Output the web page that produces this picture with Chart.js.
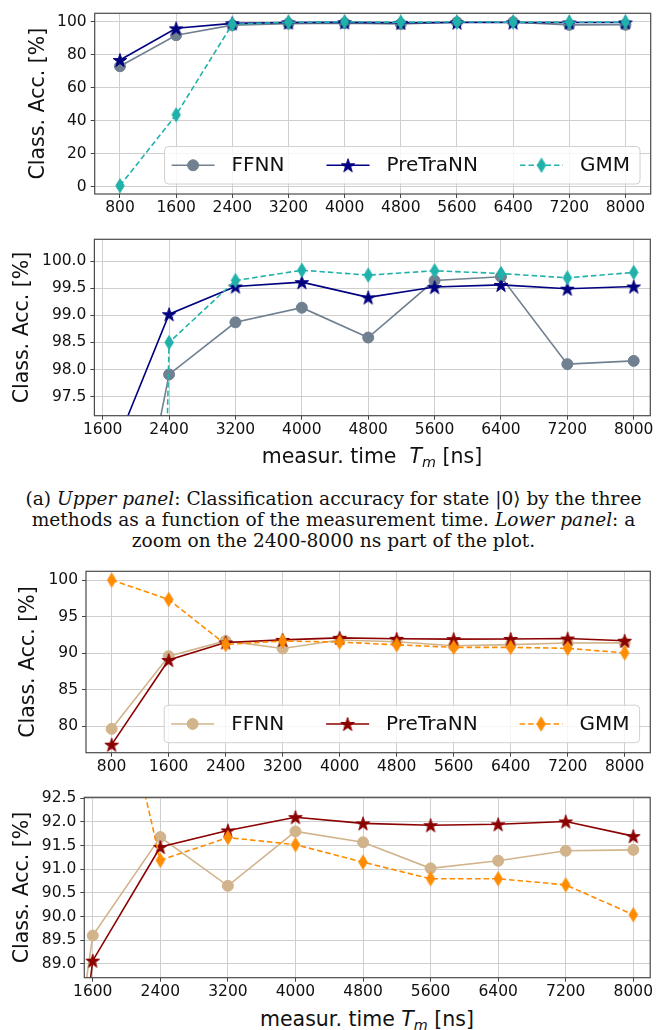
<!DOCTYPE html>
<html><head><meta charset="utf-8">
<script src="https://cdn.jsdelivr.net/npm/chart.js@4.4.1/dist/chart.umd.min.js"></script>
<style>
html,body{margin:0;padding:0;background:#fff;}
body{width:667px;height:1030px;position:relative;overflow:hidden;font-family:'DejaVu Sans',sans-serif;}
canvas{position:absolute;left:0;}
.xtitle{position:absolute;text-align:center;font-size:20.5px;color:#111;line-height:24px;white-space:nowrap;}
.xtitle sub{font-size:0.7em;vertical-align:-0.3em;line-height:0;}
.caption{position:absolute;left:0;width:667px;text-align:center;font-family:'DejaVu Serif',serif;font-size:18.6px;line-height:20.8px;color:#111;white-space:nowrap;}
</style></head>
<body>
<canvas id="c1" width="667" height="228" style="top:0px;width:667px;height:228px"></canvas>
<canvas id="c2" width="667" height="244" style="top:226px;width:667px;height:244px"></canvas>
<canvas id="c3" width="667" height="215" style="top:558px;width:667px;height:215px"></canvas>
<canvas id="c4" width="667" height="222" style="top:784px;width:667px;height:222px"></canvas>
<div class="xtitle" style="left:94px;width:556px;top:444px">measur. time&nbsp; <i>T</i><sub><i>m</i></sub> [ns]</div>
<div class="caption" style="top:489px">(a) <i>Upper panel</i>: Classification accuracy for state |0⟩ by the three<br>methods as a function of the measurement time. <i>Lower panel</i>: a<br>zoom on the 2400-8000 ns part of the plot.</div>
<div class="xtitle" style="left:84px;width:566px;top:1007px">measur. time <i>T</i><sub><i>m</i></sub> [ns]</div>
<script>
// ---------- data ----------
const timesNs = [800, 1600, 2400, 3200, 4000, 4800, 5600, 6400, 7200, 8000];
const seriesNames = ['FFNN', 'PreTraNN', 'GMM'];
const ffnnState0     = [73.0, 91.8, 97.91, 98.87, 99.14, 98.59, 99.64, 99.71, 98.10, 98.16];
const pretrannState0 = [76.8, 96.0, 99.02, 99.53, 99.61, 99.33, 99.52, 99.56, 99.49, 99.53];
const gmmState0      = [0.6, 43.6, 98.50, 99.64, 99.83, 99.74, 99.82, 99.77, 99.69, 99.79];
const ffnnState1     = [79.66, 89.6, 91.68, 90.65, 91.80, 91.57, 91.02, 91.18, 91.39, 91.41];
const pretrannState1 = [77.5, 89.07, 91.47, 91.82, 92.10, 91.97, 91.93, 91.95, 92.01, 91.70];
const gmmState1      = [100.0, 97.35, 91.19, 91.67, 91.52, 91.15, 90.80, 90.80, 90.67, 90.04];
const xTicksFull = [800, 1600, 2400, 3200, 4000, 4800, 5600, 6400, 7200, 8000];
const xTicksZoom = [1600, 2400, 3200, 4000, 4800, 5600, 6400, 7200, 8000];
const yTicksUpper0 = [0, 20, 40, 60, 80, 100];
const yTicksLower0 = [97.5, 98.0, 98.5, 99.0, 99.5, 100.0];
const yTicksUpper1 = [80, 85, 90, 95, 100];
const yTicksLower1 = [89.0, 89.5, 90.0, 90.5, 91.0, 91.5, 92.0, 92.5];
const yTitle = 'Class. Acc. [%]';

// ---------- styles ----------
const FONT = "'DejaVu Sans', sans-serif";
const TXT = '#111';
function starImg(color, R) {
  const s = Math.ceil(2 * R + 3), c = document.createElement('canvas');
  c.width = s; c.height = s;
  const g = c.getContext('2d');
  g.translate(s / 2, s / 2 + R * 0.1);
  g.beginPath();
  for (let i = 0; i < 10; i++) {
    const a = -Math.PI / 2 + i * Math.PI / 5, r = i % 2 ? R * 0.382 : R;
    g.lineTo(r * Math.cos(a), r * Math.sin(a));
  }
  g.closePath(); g.fillStyle = color; g.fill();
  g.strokeStyle = color; g.lineWidth = 1; g.lineJoin = 'miter'; g.stroke();
  return c;
}
function diamondImg(color, w, h) {
  const cw = Math.ceil(w + 3), ch = Math.ceil(h + 3), c = document.createElement('canvas');
  c.width = cw; c.height = ch;
  const g = c.getContext('2d');
  g.translate(cw / 2, ch / 2);
  g.beginPath(); g.moveTo(0, -h / 2); g.lineTo(w / 2, 0); g.lineTo(0, h / 2); g.lineTo(-w / 2, 0); g.closePath();
  g.fillStyle = color; g.fill(); g.strokeStyle = color; g.lineWidth = 1; g.stroke();
  return c;
}
const colors0 = ['#708090', '#000080', '#20B2AA'];
const colors1 = ['#D2B48C', '#8B0000', '#FF8C00'];
function seriesStyle(colors) {
  return [
    { color: colors[0], pointStyle: 'circle', radius: 5.5, dash: [] },
    { color: colors[1], pointStyle: starImg(colors[1], 7.2), radius: 6, dash: [] },
    { color: colors[2], pointStyle: diamondImg(colors[2], 8.5, 14), radius: 6, dash: [5.5, 3] }
  ];
}

// ---------- plugins ----------
const framePlugin = {
  id: 'frame',
  afterDatasetsDraw(chart) {
    const a = chart.chartArea, ctx = chart.ctx;
    ctx.save(); ctx.strokeStyle = '#4a4a4a'; ctx.lineWidth = 1.2;
    ctx.strokeRect(a.left, a.top, a.right - a.left, a.bottom - a.top);
    ctx.restore();
  }
};
const legendPlugin = {
  id: 'boxLegend',
  afterDraw(chart, args, o) {
    if (!o.show) return;
    const ctx = chart.ctx, a = chart.chartArea;
    ctx.save();
    ctx.font = o.fontSize + 'px ' + FONT;
    const items = chart.data.datasets.map(ds => ({ ds, w: ctx.measureText(ds.label).width }));
    let total = o.padL + o.padR + o.colSpace * (items.length - 1);
    items.forEach(it => total += o.handle + o.gap + it.w);
    const right = a.right - o.offR, bottom = a.bottom - o.offB;
    const left = right - total, top = bottom - o.h;
    ctx.beginPath();
    ctx.roundRect(left, top, total, o.h, 4);
    ctx.fillStyle = 'rgba(255,255,255,0.8)'; ctx.fill();
    ctx.strokeStyle = '#d0d0d0'; ctx.lineWidth = 1; ctx.stroke();
    const cy = (top + bottom) / 2;
    let x = left + o.padL;
    items.forEach(it => {
      const ds = it.ds;
      ctx.save();
      ctx.strokeStyle = ds.borderColor; ctx.lineWidth = ds.borderWidth;
      ctx.setLineDash(ds.borderDash || []);
      ctx.beginPath(); ctx.moveTo(x, cy); ctx.lineTo(x + o.handle, cy); ctx.stroke();
      ctx.setLineDash([]);
      const mx = x + o.handle / 2;
      if (typeof ds.pointStyle === 'object') {
        ctx.drawImage(ds.pointStyle, mx - ds.pointStyle.width / 2, cy - ds.pointStyle.height / 2);
      } else {
        ctx.beginPath(); ctx.arc(mx, cy, ds.pointRadius, 0, Math.PI * 2);
        ctx.fillStyle = ds.backgroundColor; ctx.fill(); ctx.lineWidth = 1; ctx.stroke();
      }
      ctx.restore();
      ctx.fillStyle = TXT; ctx.textBaseline = 'middle'; ctx.textAlign = 'left';
      ctx.fillText(ds.label, x + o.handle + o.gap, cy + 1);
      x += o.handle + o.gap + it.w + o.colSpace;
    });
    ctx.restore();
  }
};

function makePanel(id, p) {
  const styles = seriesStyle(p.colors);
  const datasets = p.series.map((vals, i) => ({
    label: seriesNames[i],
    data: timesNs.map((t, j) => ({ x: t, y: vals[j] })),
    borderColor: styles[i].color,
    backgroundColor: styles[i].color,
    borderWidth: 1.6,
    borderDash: styles[i].dash,
    pointStyle: styles[i].pointStyle,
    pointRadius: styles[i].radius,
    pointBorderWidth: 1,
    pointBackgroundColor: styles[i].color,
    pointBorderColor: styles[i].color,
    tension: 0,
    clip: 0,
    order: 3 - i
  }));
  const tickFont = { family: FONT, size: 15.5 };
  const grid = { color: '#cfcfcf', lineWidth: 1, tickLength: 4, tickColor: '#444', tickWidth: 1, drawOnChartArea: true };
  new Chart(document.getElementById(id), {
    type: 'line',
    data: { datasets },
    plugins: [framePlugin, legendPlugin],
    options: {
      responsive: false, animation: false, events: [],
      layout: { padding: { top: p.area.t - p.top, right: 667 - p.area.r, left: 0, bottom: 0 } },
      plugins: {
        legend: { display: false }, tooltip: { enabled: false },
        boxLegend: { show: p.legend, fontSize: 20, padL: 7, padR: 10, handle: 43, gap: 17, colSpace: 42, offR: 10.7, offB: 10, h: 37.5 }
      },
      scales: {
        x: {
          type: 'linear', min: p.xMin, max: p.xMax,
          afterBuildTicks: s => { s.ticks = p.xTicks.map(v => ({ value: v })); },
          afterFit: s => { s.height = p.h - (p.area.b - p.top); },
          ticks: { autoSkip: false, maxRotation: 0, minRotation: 0, font: tickFont, color: TXT, padding: 1, callback: v => String(v) },
          grid, border: { display: false }
        },
        y: {
          type: 'linear', min: p.yMin, max: p.yMax,
          afterBuildTicks: s => { s.ticks = p.yTicks.map(v => ({ value: v })); },
          afterFit: s => { s.width = p.area.l; },
          ticks: { font: tickFont, color: TXT, padding: 4, callback: v => v.toFixed(p.yDec) },
          grid, border: { display: false },
          title: { display: true, text: yTitle, color: TXT, font: { family: FONT, size: 20.5 }, padding: { top: p.titleX - 12.3, bottom: 0 } }
        }
      }
    }
  });
}

makePanel('c1', { top: 0, h: 228, area: { l: 94.7, r: 650.7, t: 9.5, b: 194 },
  xMin: 440, xMax: 8360, yMin: -4.4, yMax: 105.1, xTicks: xTicksFull, yTicks: yTicksUpper0, yDec: 0,
  series: [ffnnState0, pretrannState0, gmmState0], colors: colors0, legend: true, titleX: 38.5 });
makePanel('c2', { top: 226, h: 244, area: { l: 94.4, r: 650.3, t: 231.7, b: 415.7 },
  xMin: 1500, xMax: 8200, yMin: 97.15, yMax: 100.4, xTicks: xTicksZoom, yTicks: yTicksLower0, yDec: 1,
  series: [ffnnState0, pretrannState0, gmmState0], colors: colors0, legend: false, titleX: 22.5 });
makePanel('c3', { top: 558, h: 215, area: { l: 86, r: 650.3, t: 565.7, b: 752.7 },
  xMin: 440, xMax: 8360, yMin: 76.4, yMax: 101.2, xTicks: xTicksFull, yTicks: yTicksUpper1, yDec: 0,
  series: [ffnnState1, pretrannState1, gmmState1], colors: colors1, legend: true, titleX: 28.7 });
makePanel('c4', { top: 784, h: 222, area: { l: 84.3, r: 650.2, t: 790.7, b: 977.7 },
  xMin: 1500, xMax: 8200, yMin: 88.71, yMax: 92.52, xTicks: xTicksZoom, yTicks: yTicksLower1, yDec: 1,
  series: [ffnnState1, pretrannState1, gmmState1], colors: colors1, legend: false, titleX: 22.5 });
</script>
</body></html>
